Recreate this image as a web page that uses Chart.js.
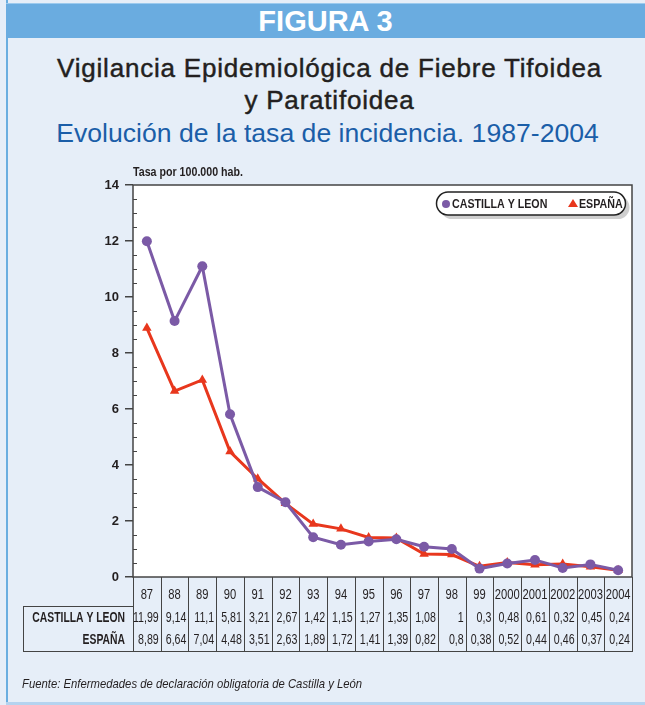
<!DOCTYPE html>
<html>
<head>
<meta charset="utf-8">
<script src="https://cdn.jsdelivr.net/npm/chart.js@4/dist/chart.umd.min.js"></script>
<style>
  html, body { margin: 0; padding: 0; }
  body { width: 645px; height: 705px; background: #e6eef8; position: relative; overflow: hidden; font-family: 'Liberation Sans', Arial, sans-serif; }
  #leftbar { position: absolute; left: 6px; top: 0; width: 2px; height: 705px; background: #6aaee0; }
  #botbar { position: absolute; left: 6px; top: 702px; width: 639px; height: 3px; background: #b5d3ef; }
  #banner { position: absolute; left: 6px; top: 3px; width: 639px; height: 34px; background: #6aace0; border-top: 1px solid #9ccaee; color: #fff; text-align: center; font: bold 29px 'Liberation Sans', Arial, sans-serif; line-height: 34px; }
  .ttl { position: absolute; left: 6px; width: 639px; text-align: center; white-space: nowrap; }
  #t1, #t2 { left: 10px; font-size: 26px; letter-spacing: 0.8px; color: #231f20; -webkit-text-stroke: 0.45px #231f20; }
  #t1 { top: 53px; }
  #t2 { top: 85px; }
  #t3 { left: 8px; top: 118px; font-size: 26.6px; color: #1b5ea8; }
  #src { position: absolute; left: 22px; top: 676px; font: italic 13px 'Liberation Sans', Arial, sans-serif; color: #231f20; transform: scaleX(0.87); transform-origin: left center; white-space: nowrap; }
  #chart { position: absolute; left: 0; top: 0; }
</style>
</head>
<body>
<div id="leftbar"></div>
<div id="botbar"></div>
<div id="banner">FIGURA 3</div>
<div class="ttl" id="t1">Vigilancia Epidemiológica de Fiebre Tifoidea</div>
<div class="ttl" id="t2">y Paratifoidea</div>
<div class="ttl" id="t3">Evolución de la tasa de incidencia. 1987-2004</div>
<canvas id="chart" width="645" height="705"></canvas>
<div id="src">Fuente: Enfermedades de declaración obligatoria de Castilla y León</div>
<script>
// Datos
const years = ['87', '88', '89', '90', '91', '92', '93', '94', '95', '96', '97', '98', '99', '2000', '2001', '2002', '2003', '2004'];
const castillaLeon = [11.99, 9.14, 11.1, 5.81, 3.21, 2.67, 1.42, 1.15, 1.27, 1.35, 1.08, 1, 0.3, 0.48, 0.61, 0.32, 0.45, 0.24];
const espana = [8.89, 6.64, 7.04, 4.48, 3.51, 2.63, 1.89, 1.72, 1.41, 1.39, 0.82, 0.8, 0.38, 0.52, 0.44, 0.46, 0.37, 0.24];
const seriesNames = ['CASTILLA Y LEON', 'ESPAÑA'];

const FONT = "'Liberation Sans', Arial, sans-serif";
const PURPLE = '#7b5aa6';
const RED = '#e8371d';
const INK = '#231f20';
const LINE = '#444';

function fmt(v) {
    return String(v).replace('.', ',');
}

// texto estrechado horizontalmente (la fuente original es condensada)
function narrowText(ctx, text, x, y, align, sx) {
    ctx.save();
    ctx.translate(x, y);
    ctx.scale(sx, 1);
    ctx.textAlign = align;
    ctx.fillText(text, 0, 0);
    ctx.restore();
}

// Fondo blanco, marco, marcas menores, título del eje y leyenda
const framePlugin = {
    id: 'frame',
    beforeDraw(chart) {
        const { ctx, chartArea: a } = chart;
        ctx.save();
        ctx.fillStyle = '#fff';
        ctx.fillRect(a.left, a.top, a.right - a.left, a.bottom - a.top);
        ctx.restore();
    },
    afterDatasetsDraw(chart) {
        const { ctx, chartArea: a, scales } = chart;
        const ys = scales.y;
        ctx.save();
        ctx.strokeStyle = LINE;
        ctx.lineWidth = 1.5;
        ctx.strokeRect(a.left, a.top, a.right - a.left, a.bottom - a.top);

        ctx.lineWidth = 1;
        ctx.beginPath();
        for (let v = 0.5; v < 14; v += 0.5) {
            if (v % 2 === 0) continue;
            const y = Math.round(ys.getPixelForValue(v)) + 0.5;
            ctx.moveTo(a.left, y);
            ctx.lineTo(a.left + 4, y);
        }
        ctx.stroke();

        ctx.fillStyle = INK;
        ctx.font = 'bold 13px ' + FONT;
        ctx.textBaseline = 'middle';
        narrowText(ctx, 'Tasa por 100.000 hab.', a.left, a.top - 13, 'left', 0.82);

        // leyenda en cápsula con sombra
        const lx = 437, ly = 192, lw = 188, lh = 23, r = 11;
        const pill = (x, y) => {
            ctx.beginPath();
            ctx.moveTo(x + r, y);
            ctx.lineTo(x + lw - r, y);
            ctx.arc(x + lw - r, y + r + 0.5, r + 0.5, -Math.PI / 2, Math.PI / 2);
            ctx.lineTo(x + r, y + lh);
            ctx.arc(x + r, y + r + 0.5, r + 0.5, Math.PI / 2, Math.PI * 1.5);
            ctx.closePath();
        };
        ctx.fillStyle = '#cfcfcf';
        pill(lx + 4, ly + 4);
        ctx.fill();
        ctx.fillStyle = '#fff';
        pill(lx, ly);
        ctx.fill();
        ctx.strokeStyle = '#222';
        ctx.lineWidth = 1.5;
        ctx.stroke();

        const cy = ly + lh / 2 + 0.5;
        ctx.fillStyle = PURPLE;
        ctx.beginPath();
        ctx.arc(lx + 9, cy, 4, 0, Math.PI * 2);
        ctx.fill();
        ctx.fillStyle = INK;
        ctx.font = 'bold 13px ' + FONT;
        narrowText(ctx, chart.data.datasets[0].label, lx + 15, cy, 'left', 0.82);
        ctx.fillStyle = RED;
        ctx.beginPath();
        ctx.moveTo(lx + 136, cy - 5);
        ctx.lineTo(lx + 141, cy + 3);
        ctx.lineTo(lx + 131, cy + 3);
        ctx.closePath();
        ctx.fill();
        ctx.fillStyle = INK;
        narrowText(ctx, chart.data.datasets[1].label, lx + 142, cy, 'left', 0.82);
        ctx.restore();
    }
};

// Tabla de datos bajo el eje X (los años salen de las marcas de la escala X)
const tablePlugin = {
    id: 'dataTable',
    afterDraw(chart) {
        const { ctx, chartArea: a, scales } = chart;
        const xs = scales.x;
        const n = years.length;
        const cw = (a.right - a.left) / n;
        const top = a.bottom, rowTop = a.bottom + 29, bottom = a.bottom + 74;
        const boxLeft = 23;
        ctx.save();
        ctx.strokeStyle = LINE;
        ctx.lineWidth = 1;
        ctx.beginPath();
        for (let i = 0; i <= n; i++) {
            const x = Math.round(a.left + i * cw) + 0.5;
            ctx.moveTo(x, top);
            ctx.lineTo(x, bottom);
        }
        ctx.moveTo(boxLeft, rowTop + 0.5);
        ctx.lineTo(a.left, rowTop + 0.5);
        ctx.moveTo(boxLeft + 0.5, rowTop);
        ctx.lineTo(boxLeft + 0.5, bottom);
        ctx.moveTo(boxLeft, bottom + 0.5);
        ctx.lineTo(a.right + 1, bottom + 0.5);
        ctx.stroke();

        ctx.fillStyle = INK;
        ctx.textBaseline = 'middle';
        ctx.font = '14px ' + FONT;
        xs.ticks.forEach((t, i) => {
            narrowText(ctx, xs.getLabelForValue(t.value), xs.getPixelForTick(i), a.bottom + 18, 'center', 0.8);
        });

        const rows = [castillaLeon, espana];
        const rowY = [rowTop + 12, rowTop + 34];
        ctx.font = 'bold 14px ' + FONT;
        seriesNames.forEach((name, r) => narrowText(ctx, name, a.left - 8, rowY[r], 'right', 0.74));
        ctx.font = '14px ' + FONT;
        rows.forEach((vals, r) => {
            vals.forEach((v, i) => {
                const x = xs.getPixelForValue(i) + cw / 2 - 2;
                narrowText(ctx, fmt(v), x, rowY[r], 'right', 0.76);
            });
        });
        ctx.restore();
    }
};

new Chart(document.getElementById('chart'), {
    type: 'line',
    data: {
        labels: years,
        datasets: [
            {
                label: seriesNames[0],
                data: castillaLeon,
                borderColor: PURPLE,
                backgroundColor: PURPLE,
                borderWidth: 3,
                pointStyle: 'circle',
                pointRadius: 5,
                pointBorderWidth: 0,
                tension: 0
            },
            {
                label: seriesNames[1],
                data: espana,
                borderColor: RED,
                backgroundColor: RED,
                borderWidth: 3,
                pointStyle: 'triangle',
                pointRadius: 5.5,
                pointBorderWidth: 0,
                tension: 0
            }
        ]
    },
    options: {
        responsive: false,
        animation: false,
        devicePixelRatio: 1,
        layout: { padding: { left: 103, right: 13, top: 185, bottom: 99 } },
        plugins: {
            legend: { display: false },
            tooltip: { enabled: false }
        },
        scales: {
            x: {
                offset: true,
                afterFit: s => { s.height = 29; },
                grid: { display: false, drawTicks: false },
                border: { display: false },
                ticks: { display: false, autoSkip: false }
            },
            y: {
                min: 0,
                max: 14,
                afterFit: s => { s.width = 30; },
                grid: { drawOnChartArea: false, drawTicks: true, tickLength: 8, color: LINE, lineWidth: 1.5 },
                border: { display: false },
                ticks: {
                    stepSize: 2,
                    padding: 6,
                    color: INK,
                    font: { family: FONT, size: 13, weight: 'bold' }
                }
            }
        }
    },
    plugins: [framePlugin, tablePlugin]
});
</script>
</body>
</html>
